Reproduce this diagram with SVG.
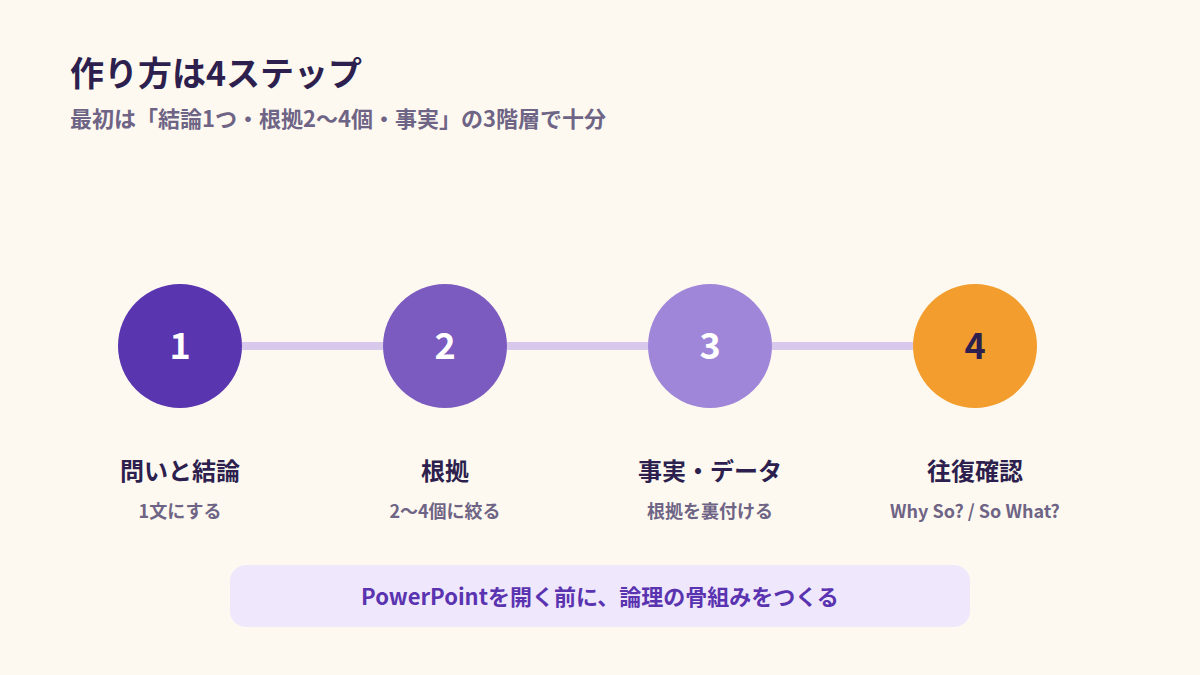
<svg xmlns="http://www.w3.org/2000/svg" width="1200" height="675" viewBox="0 0 1200 675">
<style>
text{font-family:"Noto Sans CJK JP","Noto Sans",sans-serif;font-weight:700}
.num{font-size:36px;text-anchor:middle;fill:#ffffff}
.lbl{font-size:24px;text-anchor:middle;fill:#2d1f4e}
.sub{font-size:18px;text-anchor:middle;fill:#6e6485}
.conn{stroke:#d8c8ec;stroke-width:8}
</style>
<rect width="1200" height="675" fill="#fef9f0"/>
<text x="70" y="86" font-size="34" fill="#2d1f4e">作り方は4ステップ</text>
<text x="70" y="127" font-size="22" fill="#6e6485">最初は「結論1つ・根拠2〜4個・事実」の3階層で十分</text>
<g id="connectors">
<line class="conn" x1="242" y1="346" x2="383" y2="346"/>
<line class="conn" x1="507" y1="346" x2="648" y2="346"/>
<line class="conn" x1="772" y1="346" x2="913" y2="346"/>
</g>
<g id="step1">
<circle cx="180" cy="346" r="62" fill="#5a35b0"/>
<text class="num" x="180" y="359">1</text>
<text class="lbl" x="180" y="480">問いと結論</text>
<text class="sub" x="180" y="518">1文にする</text>
</g>
<g id="step2">
<circle cx="445" cy="346" r="62" fill="#7b5bbf"/>
<text class="num" x="445" y="359">2</text>
<text class="lbl" x="445" y="480">根拠</text>
<text class="sub" x="445" y="518">2〜4個に絞る</text>
</g>
<g id="step3">
<circle cx="710" cy="346" r="62" fill="#a086d8"/>
<text class="num" x="710" y="359">3</text>
<text class="lbl" x="710" y="480">事実・データ</text>
<text class="sub" x="710" y="518">根拠を裏付ける</text>
</g>
<g id="step4">
<circle cx="975" cy="346" r="62" fill="#f29d2e"/>
<text class="num" x="975" y="359" style="fill:#2d1f4e">4</text>
<text class="lbl" x="975" y="480">往復確認</text>
<text class="sub" x="975" y="518">Why So? / So What?</text>
</g>
<g id="note">
<rect x="230" y="565" width="740" height="62" rx="16" fill="#efe7fb"/>
<text x="600" y="605" font-size="22" text-anchor="middle" fill="#5a33b0">PowerPointを開く前に、論理の骨組みをつくる</text>
</g>
</svg>
